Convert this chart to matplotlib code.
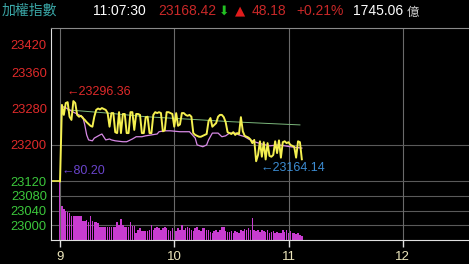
import numpy as np
import matplotlib.pyplot as plt

plt.rcParams['font.family'] = ['Liberation Sans', 'DejaVu Sans', 'Noto Sans CJK TC']

W, H = 469, 264

prev_close = 23120.24
amount = 1745.06
clock = '11:07:30'

# index value, one per minute from 9:00
price = [
    23120, 23288, 23266, 23292, 23294, 23262, 23255, 23296.36, 23292, 23266,
    23262, 23264, 23259, 23255, 23250, 23246, 23242, 23240, 23262, 23277,
    23280, 23278, 23281, 23279, 23277, 23270, 23240, 23270, 23270, 23228,
    23226, 23272, 23226, 23268, 23268, 23226, 23226, 23272, 23272, 23233,
    23268, 23268, 23266, 23226, 23226, 23261, 23262, 23226, 23226, 23266,
    23272, 23270, 23272, 23270, 23230, 23232, 23272, 23272, 23270, 23268,
    23240, 23270, 23242, 23245, 23270, 23270, 23266, 23264, 23266, 23262,
    23226, 23222, 23220, 23218, 23218, 23220, 23222, 23224, 23252, 23259,
    23240, 23244, 23248, 23262, 23266, 23266, 23261, 23250, 23228, 23226,
    23224, 23228, 23222, 23226, 23224, 23261, 23230, 23220, 23218, 23216,
    23212, 23204, 23211, 23164.14, 23178, 23208, 23174, 23206, 23168, 23204,
    23176, 23174, 23178, 23208, 23182, 23210, 23172, 23206, 23208, 23204,
    23206, 23200, 23198, 23196, 23172, 23208, 23206, 23168.42,
]

# volume (100M), one bar per minute
volume = [
    80.20, 46, 42, 39, 38, 37, 33, 33, 32, 33,
    32, 33, 26, 26, 27, 25, 32, 26, 25, 24,
    23, 18, 17, 18, 17, 17, 18, 17, 17, 17,
    25, 21, 28, 21, 18, 17, 18, 25, 19, 19,
    10, 14, 16, 12, 12, 12, 12, 13, 21, 13,
    16, 18, 16, 14, 16, 18, 16, 13, 12, 16,
    11, 12, 16, 13, 21, 14, 16, 18, 16, 14,
    12, 16, 17, 14, 12, 16, 16, 14, 13, 11,
    10, 12, 13, 11, 14, 18, 17, 12, 11, 11,
    12, 10, 12, 11, 10, 13, 12, 15, 14, 16,
    13, 30, 14, 12, 13, 11, 14, 12, 11, 13,
    10, 11, 12, 10, 11, 9, 10, 13, 11, 14,
    10, 12, 9, 10, 8, 9, 7, 6,
]

# average price line (pink)
avg_minutes = [1, 2, 5, 7, 10, 12, 13, 14, 15, 17, 18, 21, 22, 24, 26, 27, 29,
               33, 35, 38, 40, 43, 45, 48, 51, 52, 55, 58, 63, 68, 71, 72, 75,
               77, 78, 80, 83, 85, 87, 89, 92, 94, 97, 99, 102, 106, 110, 115,
               121, 127]
avg_price = [23281, 23284, 23277, 23272, 23266, 23261, 23244, 23222, 23211,
             23209, 23215, 23222, 23224, 23211, 23213, 23211, 23209, 23207,
             23207, 23213, 23218, 23218, 23220, 23222, 23224, 23229, 23231,
             23231, 23229, 23229, 23215, 23200, 23196, 23200, 23211, 23226,
             23226, 23218, 23220, 23226, 23226, 23222, 23218, 23213, 23207,
             23202, 23198, 23200, 23196, 23193]

# slow line (green)
trend_minutes = [4, 25, 45, 70, 90, 110, 126]
trend_price = [23277, 23270, 23262, 23256, 23251, 23247, 23244]

price_ticks = [23420, 23360, 23280, 23200, 23120]
vol_ticks = [60, 40, 20]
vol_labels = ['23080', '23040', '23000']
hour_ticks = [9, 10, 11, 12]

RED = '#e02a2a'
GREEN = '#3cc83c'

hours = 9 + np.arange(len(price)) / 60
rect = [51 / W, 24 / H, 418 / W, 212 / H]

fig = plt.figure(figsize=(W / 100, H / 100), dpi=100, facecolor='black')

# volume axes underneath
vax = fig.add_axes(rect, facecolor='black', zorder=1)
vax.set_axisbelow(True)
vax.grid(axis='y', color='#5a5a5a', linewidth=0.8)
vax.bar(hours, volume, width=0.8 / 60, color='#c83cd0', edgecolor='none')
vax.set_ylim(0, 288)
vax.set_xlim(8.921, 12.58)
vax.set_yticks(vol_ticks)
vax.set_yticklabels(vol_labels)
vax.tick_params(axis='y', length=0, pad=3, labelsize=9.3, labelcolor=GREEN)
vax.set_xticks([])
for s in vax.spines.values():
    s.set_visible(False)

# price axes on top
ax = fig.add_axes(rect, zorder=2)
ax.patch.set_alpha(0)
ax.set_xlim(8.921, 12.58)
ax.set_ylim(22991, 23457)

for h in hour_ticks:
    ax.axvline(h, color='#6a6a6a', linewidth=0.8, zorder=0)
ax.axhline(23200, color='#5a5a5a', linewidth=0.8, zorder=0)
ax.axhline(prev_close, color='#5a5a5a', linewidth=0.8, zorder=0)

ax.plot([8.921, hours[0]], [prev_close, prev_close], color='#f5f050', linewidth=1.2)
ax.plot(9 + np.array(trend_minutes) / 60, trend_price, color='#7cb87c', linewidth=0.7)
ax.plot(9 + np.array(avg_minutes) / 60, avg_price, color='#d88ae6', linewidth=0.9)
ax.plot(hours, price, color='#f5f050', linewidth=1.4)

ax.set_yticks(price_ticks)
ax.set_yticklabels([str(p) for p in price_ticks])
ax.tick_params(axis='y', length=0, pad=3, labelsize=9.3)
for lbl, p in zip(ax.get_yticklabels(), price_ticks):
    lbl.set_color(RED if p > prev_close else GREEN)

ax.set_xticks(hour_ticks)
ax.tick_params(axis='x', direction='out', length=5, width=1, color='#e0e0e0',
               labelsize=9.5, labelcolor='#ece6bc', pad=3)

ax.spines['right'].set_visible(False)
ax.spines['left'].set_color('#e0e0e0')
ax.spines['bottom'].set_color('#e0e0e0')
ax.spines['top'].set_color('#8a8a8a')

# high / low (after the open) / max volume labels
i_hi = int(np.argmax(price))
i_lo = int(np.argmin(price[1:])) + 1
i_v = int(np.argmax(volume))
ax.annotate('←%.2f' % price[i_hi], (hours[i_hi], price[i_hi]), xytext=(-7, 9),
            textcoords='offset pixels', color=RED, fontsize=9, va='center')
ax.annotate('←%.2f' % price[i_lo], (hours[i_lo], price[i_lo]), xytext=(4, -7),
            textcoords='offset pixels', color='#3c8cd2', fontsize=9, va='center')
vax.annotate('←%.2f' % volume[i_v], (hours[i_v], volume[i_v]), xytext=(1, 10),
             textcoords='offset pixels', color='#6a44cc', fontsize=9, va='center')

# header
last = price[-1]
chg = last - prev_close
pct = chg / prev_close * 100
hy = 1 - 11 / H
fig.text(2 / W, hy, '加權指數', color='#3aa6a6', fontsize=10,
         family=['Noto Sans CJK TC'], va='center')
fig.text(93 / W, hy, clock, color='white', fontsize=10, va='center')
fig.text(158 / W, hy, '%.2f' % last, color='#c82828', fontsize=10, va='center')
fig.text(219 / W, hy, '⬇', color='#22c022', fontsize=9, va='center',
         family=['DejaVu Sans'])
fig.text(235 / W, hy, '▲', color='#e01c1c', fontsize=9.5, va='center', family=['DejaVu Sans'])
fig.text(252 / W, hy, '%.2f' % chg, color='#c82828', fontsize=10, va='center')
fig.text(296 / W, hy, '%+.2f%%' % pct, color='#c82828', fontsize=10, va='center')
fig.text(353 / W, hy, '%.2f' % amount, color='white', fontsize=10, va='center')
fig.text(407 / W, hy - 0.005, '億', color='#d0d0d0', fontsize=9,
         family=['Noto Sans CJK TC'], va='center')

fig.savefig('out.png', dpi=100, facecolor='black')
